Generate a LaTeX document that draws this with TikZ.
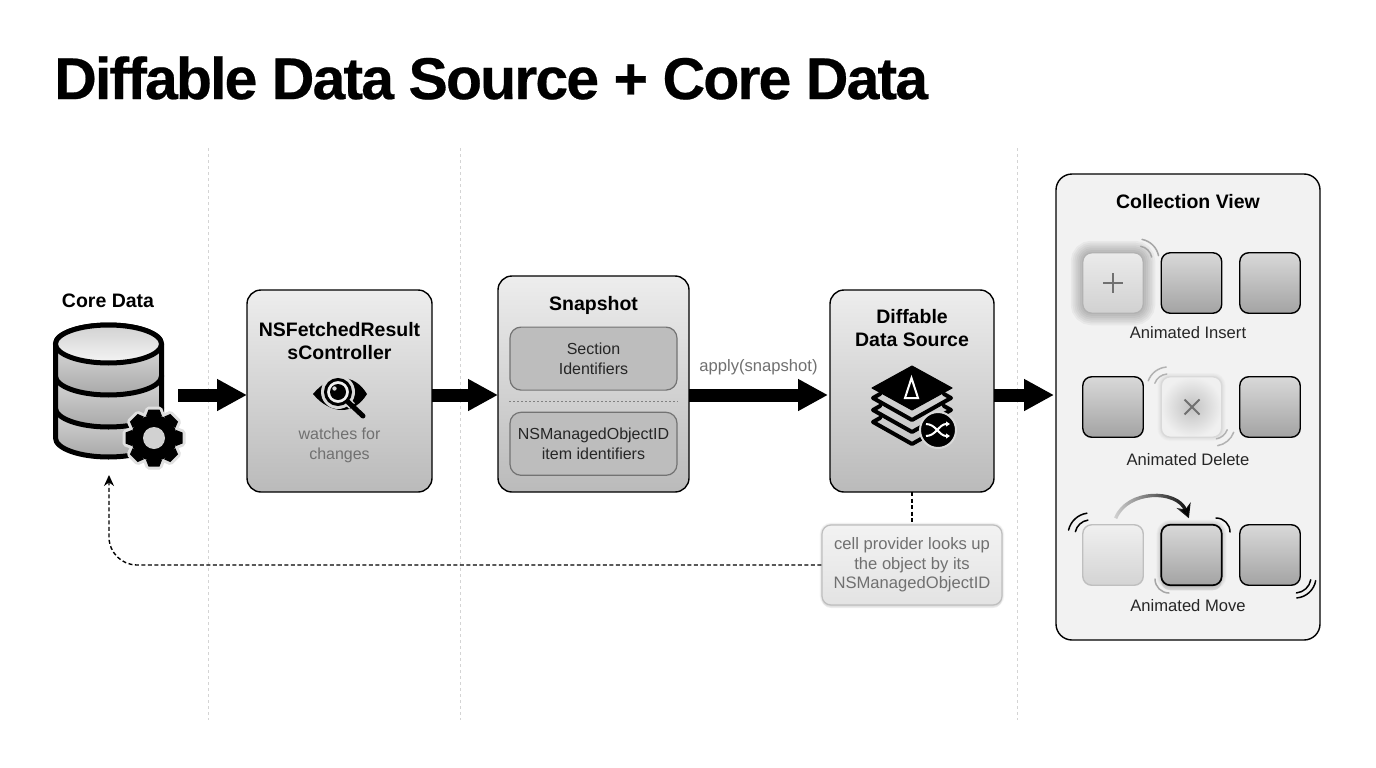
\documentclass[tikz,border=0pt]{standalone}
\usepackage{fontspec}
\setmainfont{Liberation Sans}
\newfontfamily\headfont[BoldFeatures={LetterSpace=-3.2,FakeBold=0.4}]{Liberation Sans}
\usetikzlibrary{shapes.geometric, arrows.meta, positioning, shadows, fadings}
\definecolor{inkgray}{HTML}{707070}
\definecolor{guidegray}{HTML}{D4D4D4}
\tikzfading[name=movefade, left color=transparent!90, right color=transparent!0]
\tikzstyle{stage} = [rectangle, rounded corners=14pt, inner sep=0pt, outer sep=0pt, draw=black, line width=1.4pt, top color=black!7, bottom color=black!27]
\tikzstyle{inner} = [rectangle, rounded corners=11pt, minimum width=167pt, minimum height=63pt, align=center, inner sep=0pt, draw=black!55, line width=1.2pt, fill=black!26, font=\fontsize{16}{19.5}\selectfont, text=black!85]
\tikzstyle{stagetitle} = [align=center, inner sep=0pt, font=\fontsize{19.5}{23}\selectfont\bfseries]
\tikzstyle{caption} = [align=center, inner sep=0pt, font=\fontsize{16.6}{19.5}\selectfont, text=inkgray]
\tikzstyle{tilelabel} = [inner sep=0pt, font=\fontsize{16.6}{19}\selectfont, text=black!85]
\tikzstyle{tile} = [rectangle, rounded corners=9pt, minimum size=60.5pt, inner sep=0pt, outer sep=0pt, draw=black, line width=1.4pt, top color=black!15, bottom color=black!36]
\tikzstyle{ghost} = [tile, draw=black!25, top color=black!6, bottom color=black!17]
\tikzstyle{flow} = [line width=13pt, -{Triangle[length=30pt, width=30pt]}]
\tikzstyle{lookup} = [line width=1.4pt, dash pattern=on 4pt off 2.5pt]
\tikzstyle{guide} = [guidegray, line width=1pt, dash pattern=on 3pt off 3pt]
\tikzstyle{wave} = [line width=1.5pt, line cap=round]
\tikzset{softglow/.style 2 args={preaction={draw=black, draw opacity=#2, line width=#1*1.6},
    preaction={draw=black, draw opacity=#2, line width=#1*1.35},
    preaction={draw=black, draw opacity=#2, line width=#1*1.1},
    preaction={draw=black, draw opacity=#2, line width=#1*.85},
    preaction={draw=black, draw opacity=#2, line width=#1*.6},
    preaction={draw=black, draw opacity=#2, line width=#1*.35}}}
\newcommand{\wavearc}[6][black]{\draw[wave, #1] ([shift={(#4:#5)}]#2,#3) arc (#4:#6:#5);}
\begin{document}
\begin{tikzpicture}[x=1pt, y=1pt]
\useasboundingbox (0,0) rectangle (1376,-768);
\fill[white] (0,0) rectangle (1376,-768);

% guides
\coordinate (flowline) at (0,-395);
\foreach \x in {208,460,1017} \draw[guide] (\x,-148) -- (\x,-720);

\node (title) [anchor=west, inner sep=0pt, font=\fontsize{59}{70}\headfont\bfseries] at (54,-78) {Diffable Data Source + Core Data};

% stages
\node (dbicon) [minimum width=123pt, minimum height=140pt, inner sep=0pt, outer sep=0pt] at (116.5,-395) {};
\node (dblabel) [inner sep=0pt, font=\fontsize{19.5}{22}\selectfont\bfseries] at (108,-301) {Core Data};
\node (nsf) [stage, minimum width=185pt, minimum height=202pt] at (339.5,-391) {};
\node (snapshot) [stage, minimum width=191pt, minimum height=216pt, right=66pt of nsf, yshift=7pt] {};
\node (diffable) [stage, minimum width=164pt, minimum height=202pt, right=141pt of snapshot, yshift=-7pt] {};
\node (collection) [stage, rounded corners=16pt, minimum width=264pt, minimum height=466pt, right=62pt of diffable, yshift=-16pt, top color=black!5, bottom color=black!5] {};

\node (nsftitle) [stagetitle, below=32pt of nsf.north] {NSFetchedResult\\sController};
\node (nsfnote) [caption, font=\fontsize{16}{19.5}\selectfont, below=138pt of nsf.north] {watches for\\changes};
\node (snaptitle) [stagetitle, below=20pt of snapshot.north] {Snapshot};
\node (sections) [inner, below=50.5pt of snapshot.north] {Section\\Identifiers};
\node (items) [inner, below=21pt of sections] {NSManagedObjectID\\item identifiers};
\node (difftitle) [stagetitle, below=19pt of diffable.north] {Diffable\\Data Source};
\node (applylabel) [caption, inner sep=0pt] at (758.5,-367) {apply(snapshot)};
\node (note) [caption, rectangle, rounded corners=9pt, minimum width=180pt, minimum height=80pt, draw=black!25, line width=1.2pt, top color=black!5, bottom color=black!11, softglow={3pt}{.02}, drop shadow={opacity=.12, shadow xshift=0pt, shadow yshift=-3pt}] at (912,-565) {cell provider looks up\\the object by its\\NSManagedObjectID};

\draw[black!50, line width=1pt, dash pattern=on 1.5pt off 2.5pt] (sections.south west |- 0,-401) -- (sections.south east |- 0,-401);

% flow arrows
\draw[flow] (dbicon.east) -- (nsf.west |- flowline);
\draw[flow] (nsf.east |- flowline) -- (snapshot.west |- flowline);
\draw[flow, shorten >=2pt] (snapshot.east |- flowline) -- (diffable.west |- flowline);
\draw[flow, shorten >=2pt] (diffable.east |- flowline) -- (collection.west |- flowline);

\coordinate (dbreturn) at (109,-475);
\draw[lookup] (diffable.south) -- (note.north);
\draw[lookup, rounded corners=28pt, -{Stealth[length=11pt, width=10pt]}] (note.west) -| (dbreturn);

% database
\foreach \y/\yy in {408/438,376/408,344/376}
  \draw[line width=5pt, top color=black!8, bottom color=black!34] (55.5,-\y) -- (55.5,-\yy) arc (180:360:53 and 19) -- (161.5,-\y) arc (0:180:53 and 19) -- cycle;
\draw[line width=5pt, top color=black!18, bottom color=black!4] (108.5,-344) ellipse (53 and 19);
\foreach \a in {0,45,...,315}
  \draw[black!12, fill=black!12, line width=6pt, line join=round, rotate around={\a:(154,-438)}] (146,-416) -- (148.5,-409.5) -- (159.5,-409.5) -- (162,-416) -- cycle;
\draw[black!12, line width=6pt] (154,-438) circle (23);
\foreach \a in {0,45,...,315}
  \fill[rotate around={\a:(154,-438)}] (146,-416) -- (148.5,-409.5) -- (159.5,-409.5) -- (162,-416) -- cycle;
\fill (154,-438) circle (23);
\fill[black!18] (154,-438) circle (11);

% eye
\fill (313,-394) .. controls (322,-383) and (333,-378) .. (342,-378) .. controls (352,-378) and (361,-384) .. (367,-394) .. controls (361,-404) and (352,-410) .. (342,-410) .. controls (333,-410) and (322,-405) .. (313,-394) -- cycle;
\fill[black!15] (338,-392) circle (17);
\draw[line width=3pt, fill=black!6] (338,-392) circle (12.5);
\fill (338,-392) circle (8);
\fill[black!15] (334.5,-388.5) circle (2.2);
\draw[black!15, line width=8pt] (349,-403) -- (352,-406);
\draw[line width=5pt, line cap=round] (348,-402) -- (363,-416);

% layers
\foreach \s in {24,12,0}
  \draw[line width=4pt, line join=round, line cap=round] (880,-394-\s) -- (873,-398-\s) -- (912,-420-\s) -- (951,-398-\s) -- (944,-394-\s);
\draw[fill=black, line width=1pt, line join=round] (872,-388) -- (912,-366) -- (952,-388) -- (912,-410) -- cycle;
\draw[white, line width=2pt] (911.5,-378) -- (905,-398) -- (918,-398) -- cycle;
\draw[black!15, fill=black, line width=2pt] (938,-430) circle (18);
\draw[white, line width=2pt, -{Triangle[length=4pt, width=5pt]}] (926,-424) .. controls (936,-424) and (939,-436) .. (950,-436);
\draw[white, line width=2pt, -{Triangle[length=4pt, width=5pt]}] (926,-436) .. controls (936,-436) and (939,-424) .. (950,-424);

% collection view
\node (coltitle) [stagetitle] at (1188,-202) {Collection View};
\node (insert1) [ghost, softglow={15pt}{.04}, draw=black!30, top color=black!8, bottom color=black!18] at (1113,-283) {};
\node (insert2) [tile, right=18pt of insert1] {};
\node (insert3) [tile, right=18pt of insert2] {};
\node (insertlabel) [tilelabel] at (1188,-333) {Animated Insert};
\draw[inkgray, line width=2pt] (1103,-283) -- (1123,-283) (1113,-273) -- (1113,-293);
\wavearc[black!35]{1138}{-260}{12}{21}{79}
\wavearc[black!35]{1138}{-260}{12}{14}{79}

\node (delete1) [tile] at (1113,-407) {};
\node (delete2) [ghost, right=18pt of delete1, softglow={5pt}{.012}, inner color=black!24, outer color=black!6, draw=black!15] {};
\node (delete3) [tile, right=18pt of delete2] {};
\node (deletelabel) [tilelabel] at (1188,-460) {Animated Delete};
\draw[inkgray, line width=2pt] (1184.5,-399.5) -- (1199.5,-414.5) (1184.5,-414.5) -- (1199.5,-399.5);
\wavearc[black!30]{1168}{-388}{160}{21}{95}
\wavearc[black!30]{1168}{-388}{160}{14}{95}
\wavearc[black!30]{1214}{-425}{-80}{21}{-20}
\wavearc[black!30]{1214}{-425}{-80}{14}{-20}

\node (move1) [ghost] at (1113,-555) {};
\node (move2) [tile, right=18pt of move1, line width=1.7pt, softglow={6pt}{.025}, drop shadow={opacity=.2, shadow xshift=0pt, shadow yshift=-5pt}] {};
\node (move3) [tile, right=18pt of move2] {};
\node (movelabel) [tilelabel] at (1188,-606) {Animated Move};
\draw[path fading=movefade, line width=3.4pt, shorten <=7pt, shorten >=7pt, -{Stealth[length=14pt, width=15pt]}] (move1.north) to[out=68, in=112, looseness=1.25] (move2.north);
\wavearc{1090}{-535}{167}{22}{98}
\wavearc{1090}{-535}{167}{15}{98}
\wavearc{1216}{-532}{90}{14}{0}
\wavearc[black!35]{1169}{-579}{180}{14}{270}
\wavearc{1295}{-577}{-85}{16}{-10}
\wavearc{1295}{-577}{-85}{21}{-10}
\end{tikzpicture}
\end{document}
